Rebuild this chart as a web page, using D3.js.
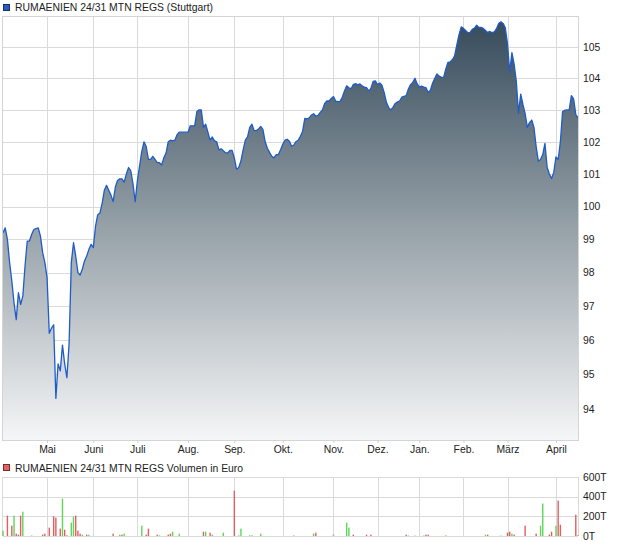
<!DOCTYPE html>
<html><head><meta charset="utf-8">
<script src="https://cdn.jsdelivr.net/npm/d3@7"></script>
<style>
body{margin:0;background:#fff}
svg{display:block}
text{font-family:"Liberation Sans",Arial,sans-serif;font-size:10.4px;fill:#222}
</style>
</head><body>
<svg id="c" width="620" height="546"></svg>
<script>
const title = "RUMAENIEN 24/31 MTN REGS (Stuttgart)";
const volTitle = "RUMAENIEN 24/31 MTN REGS Volumen in Euro";

// daily closing prices (one per trading day)
const prices = [
  99.2, 99.35, 99.0, 98.3, 97.75, 97.1, 96.6, 97.4, 97.05, 97.3,
  98.2, 98.95, 98.95, 99.15, 99.3, 99.33, 99.35, 99.1, 98.6, 98.3,
  97.85, 96.2, 96.35, 96.45, 94.3, 95.3, 95.1, 95.85, 95.3, 94.9,
  95.9, 98.3, 98.9, 98.5, 98.0, 97.93, 98.1, 98.35, 98.5, 98.7,
  98.85, 98.75, 99.4, 99.75, 99.8, 100.1, 100.5, 100.65, 100.5, 100.35,
  100.15, 100.6, 100.8, 100.85, 100.85, 100.75, 101.0, 101.2, 101.1, 100.7,
  100.15, 100.8, 101.25, 101.7, 102.0, 101.85, 101.45, 101.45, 101.55, 101.45,
  101.35, 101.35, 101.28, 101.5, 101.65, 102.0, 102.05, 102.03, 102.05, 102.22,
  102.3, 102.3, 102.3, 102.3, 102.3, 102.5, 102.5, 102.5, 102.95, 103.0,
  103.0, 102.45, 102.55, 102.3, 102.05, 102.15, 102.03, 102.0, 101.75, 101.78,
  101.72, 101.66, 101.65, 101.73, 101.73, 101.5, 101.15, 101.2, 101.4, 101.75,
  102.05, 102.15, 102.45, 102.55, 102.35, 102.35, 102.4, 102.48, 102.38, 102.0,
  101.8, 101.67, 101.55, 101.5, 101.6, 101.6, 101.75, 101.92, 102.05, 102.08,
  102.02, 101.86, 101.9, 102.01, 102.05, 102.17, 102.33, 102.73, 102.72, 102.75,
  102.84, 102.88, 102.8, 102.83, 102.92, 103.0, 103.2, 103.28, 103.28, 103.36,
  103.42, 103.28, 103.26, 103.27, 103.4, 103.6, 103.76, 103.7, 103.67, 103.8,
  103.83, 103.79, 103.82, 103.76, 103.72, 103.7, 103.6, 103.68, 103.9, 103.92,
  103.8, 103.85, 103.78, 103.55, 103.25, 103.08, 103.0, 103.08, 103.2, 103.25,
  103.28, 103.4, 103.43, 103.45, 103.66, 103.8, 103.87, 104.0, 103.82, 103.72,
  103.75, 103.72, 103.7, 103.55, 103.62, 103.85, 104.0, 104.14, 104.07, 104.03,
  104.03, 104.3, 104.51, 104.52, 104.6, 104.72, 105.07, 105.4, 105.65, 105.6,
  105.53, 105.46, 105.47, 105.57, 105.61, 105.7, 105.63, 105.63, 105.6, 105.53,
  105.47, 105.5, 105.46, 105.49, 105.59, 105.76, 105.81, 105.76, 105.62, 105.1,
  104.2, 104.82, 104.45, 103.9, 102.9, 103.5, 103.17, 102.88, 102.45, 102.6,
  102.68, 102.45, 101.85, 101.4, 101.45, 101.6, 101.95, 101.2, 101.0, 100.86,
  101.05, 101.53, 101.45, 102.0, 102.95, 102.99, 103.0, 103.0, 103.45, 103.35,
  102.85, 102.75
];

const monthLabels = ["Mai","Juni","Juli","Aug.","Sep.","Okt.","Nov.","Dez.","Jan.","Feb.","März","April"];
const monthStartIdx = [20, 41, 61, 84, 105, 127, 150, 170, 189, 209, 229, 251];
const priceTicks = [94, 95, 96, 97, 98, 99, 100, 101, 102, 103, 104, 105];

// volume in thousand euro (only days with turnover)
const volumeDays = [
  0, 2, 4, 5, 6, 7, 8, 9, 13, 18,
  19, 21, 23, 24, 26, 27, 28, 29, 31, 32,
  33, 34, 35, 36, 38, 39, 50, 53, 54, 55,
  63, 65, 66, 70, 71, 75, 76, 77, 80, 91,
  92, 94, 95, 100, 105, 107, 108, 112, 113, 117,
  132, 141, 142, 150, 156, 157, 159, 165, 167, 183,
  184, 187, 191, 192, 193, 201, 219, 220, 226, 229,
  230, 231, 232, 237, 242, 244, 245, 248, 249, 251,
  252, 253, 260, 261
];
const volumeValues = [
  54, 207, 105, 207, 24, 14, 207, 247, 5, 14,
  24, 85, 200, 187, 75, 380, 65, 7, 136, 197,
  207, 54, 24, 14, 14, 14, 24, 14, 14, 24,
  105, 14, 75, 14, 7, 14, 24, 44, 24, 44,
  44, 34, 14, 34, 461, 7, 75, 7, 7, 24,
  7, 24, 34, 14, 136, 85, 14, 14, 14, 14,
  5, 5, 5, 14, 14, 7, 14, 14, 5, 34,
  44, 24, 14, 105, 24, 105, 330, 14, 44, 105,
  360, 115, 217, 7
];
const volumeUp = [
  1, 0, 0, 1, 0, 0, 0, 1, 1, 0,
  0, 0, 0, 0, 0, 1, 0, 0, 1, 1,
  0, 0, 0, 1, 0, 1, 0, 1, 0, 1,
  1, 0, 0, 0, 1, 0, 0, 1, 1, 0,
  1, 0, 1, 1, 0, 1, 1, 1, 1, 1,
  1, 1, 0, 1, 1, 1, 0, 0, 0, 0,
  1, 1, 1, 0, 0, 1, 1, 0, 1, 0,
  0, 1, 0, 0, 0, 1, 1, 0, 0, 1,
  0, 0, 0, 0
];
const volumeTicks = [0, 200, 400, 600];

const svg = d3.select("#c");
const L = 3, R = 578, T = 16, B = 440;
const VT = 477, VB = 536;
const gridCol = "#dadada";

const x = d3.scaleLinear().domain([0, prices.length - 1]).range([L, R]);
const y = d3.scaleLog().domain([93.11, 106.0]).range([B, T]);
const yv = d3.scaleLinear().domain([0, 600]).range([VB, VT]);

// gradient
const defs = svg.append("defs");
const grad = defs.append("linearGradient").attr("id", "g").attr("gradientUnits", "userSpaceOnUse")
  .attr("x1", 0).attr("y1", T).attr("x2", 0).attr("y2", B);
grad.append("stop").attr("offset", "0%").attr("stop-color", "#34495a");
grad.append("stop").attr("offset", "50%").attr("stop-color", "#96a1a8");
grad.append("stop").attr("offset", "100%").attr("stop-color", "#f5f6f7");

// legend 1
svg.append("rect").attr("x", 3.5).attr("y", 4.5).attr("width", 6).attr("height", 6)
  .attr("fill", "#2a5bbf").attr("stroke", "#1b2f6a");
svg.append("text").attr("x", 15).attr("y", 11).text(title);

// main grid
const gMain = svg.append("g").attr("shape-rendering", "crispEdges");
gMain.selectAll(".hg").data(priceTicks).join("line")
  .attr("x1", L).attr("x2", R).attr("y1", d => Math.round(y(d)) + 0.5).attr("y2", d => Math.round(y(d)) + 0.5)
  .attr("stroke", gridCol);
gMain.selectAll(".vg").data(monthStartIdx).join("line")
  .attr("x1", d => Math.round(x(d)) + 0.5).attr("x2", d => Math.round(x(d)) + 0.5).attr("y1", T).attr("y2", B)
  .attr("stroke", gridCol);

// area + line
svg.append("path").datum(prices)
  .attr("d", d3.area().x((d, i) => x(i)).y0(B).y1(d => y(d)))
  .attr("fill", "url(#g)");
svg.append("path").datum(prices)
  .attr("d", d3.line().x((d, i) => x(i)).y(d => y(d)))
  .attr("fill", "none").attr("stroke", "#1f5cc8").attr("stroke-width", 1.3).attr("stroke-linejoin", "round");

// frame
svg.append("rect").attr("x", L - 0.5).attr("y", T + 0.5).attr("width", R - L + 1).attr("height", B - T)
  .attr("fill", "none").attr("stroke", "#d4d4d4").attr("shape-rendering", "crispEdges");

// price axis
const ay = svg.append("g").attr("transform", `translate(${R},0)`)
  .call(d3.axisRight(y).tickValues(priceTicks).tickFormat(d3.format("d")).tickSize(0).tickPadding(5));
ay.select(".domain").remove();
ay.selectAll("text").attr("font-size", null).attr("font-family", null).style("fill", "#222");

// month axis
const ax = svg.append("g").attr("transform", `translate(0,${B})`)
  .call(d3.axisBottom(x).tickValues(monthStartIdx).tickFormat((d, i) => monthLabels[i]).tickSize(3).tickPadding(3));
ax.select(".domain").remove();
ax.selectAll("line").attr("stroke", "#cfcfcf");
ax.selectAll("text").attr("font-size", null).attr("font-family", null).style("fill", "#222");

// legend 2
svg.append("rect").attr("x", 3.5).attr("y", 464.5).attr("width", 6).attr("height", 6)
  .attr("fill", "#e06464").attr("stroke", "#7a2b2b");
svg.append("text").attr("x", 15).attr("y", 471.5).text(volTitle);

// volume grid
const gVol = svg.append("g").attr("shape-rendering", "crispEdges");
gVol.selectAll("line.h").data(volumeTicks).join("line")
  .attr("x1", L).attr("x2", R).attr("y1", d => Math.round(yv(d)) + 0.5).attr("y2", d => Math.round(yv(d)) + 0.5)
  .attr("stroke", gridCol);
gVol.selectAll("line.v").data(monthStartIdx).join("line")
  .attr("x1", d => Math.round(x(d)) + 0.5).attr("x2", d => Math.round(x(d)) + 0.5).attr("y1", VT).attr("y2", VB)
  .attr("stroke", gridCol);
gVol.append("line").attr("x1", L - 0.5).attr("x2", L - 0.5).attr("y1", VT).attr("y2", VB).attr("stroke", gridCol);
gVol.append("line").attr("x1", R + 0.5).attr("x2", R + 0.5).attr("y1", VT).attr("y2", VB).attr("stroke", gridCol);

// volume bars
svg.selectAll("rect.vb").data(volumeDays).join("rect")
  .attr("x", d => x(d) - 0.7).attr("width", 1.4)
  .attr("y", (d, i) => yv(volumeValues[i])).attr("height", (d, i) => VB - yv(volumeValues[i]))
  .attr("fill", (d, i) => volumeUp[i] ? "#5fd65a" : "#e06060");

// volume axis
const av = svg.append("g").attr("transform", `translate(${R},0)`)
  .call(d3.axisRight(yv).tickValues(volumeTicks).tickFormat(d => d + "T").tickSize(0).tickPadding(5));
av.select(".domain").remove();
av.selectAll("text").attr("font-size", null).attr("font-family", null).style("fill", "#222");
</script>
</body></html>
